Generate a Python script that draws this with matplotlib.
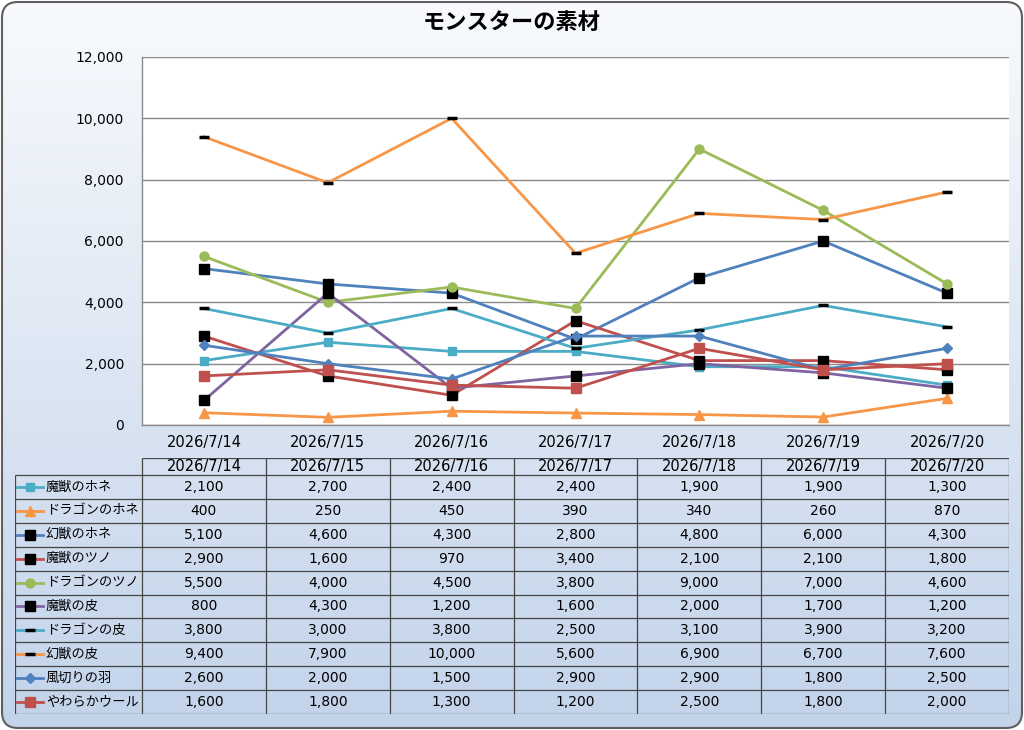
import numpy as np
import matplotlib
matplotlib.use("Agg")
import matplotlib.pyplot as plt
from matplotlib.patches import FancyBboxPatch

plt.rcParams['font.family'] = ['DejaVu Sans', 'Noto Sans CJK JP']

dates = ["2026/7/14", "2026/7/15", "2026/7/16", "2026/7/17",
         "2026/7/18", "2026/7/19", "2026/7/20"]

names = ["魔獣のホネ", "ドラゴンのホネ", "幻獣のホネ", "魔獣のツノ", "ドラゴンのツノ",
         "魔獣の皮", "ドラゴンの皮", "幻獣の皮", "風切りの羽", "やわらかウール"]

majuu_hone = [2100, 2700, 2400, 2400, 1900, 1900, 1300]
dragon_hone = [400, 250, 450, 390, 340, 260, 870]
genjuu_hone = [5100, 4600, 4300, 2800, 4800, 6000, 4300]
majuu_tsuno = [2900, 1600, 970, 3400, 2100, 2100, 1800]
dragon_tsuno = [5500, 4000, 4500, 3800, 9000, 7000, 4600]
majuu_kawa = [800, 4300, 1200, 1600, 2000, 1700, 1200]
dragon_kawa = [3800, 3000, 3800, 2500, 3100, 3900, 3200]
genjuu_kawa = [9400, 7900, 10000, 5600, 6900, 6700, 7600]
kazekiri_hane = [2600, 2000, 1500, 2900, 2900, 1800, 2500]
yawaraka_wool = [1600, 1800, 1300, 1200, 2500, 1800, 2000]

values = [majuu_hone, dragon_hone, genjuu_hone, majuu_tsuno, dragon_tsuno,
          majuu_kawa, dragon_kawa, genjuu_kawa, kazekiri_hane, yawaraka_wool]

aqua, orange, blue = '#4BACC6', '#F79646', '#4F81BD'
red, green, purple = '#C0504D', '#9BBB59', '#8064A2'

# (line color, marker, marker face, marker size, marker edge width)
styles = [
    (aqua, 's', aqua, 6, 1),
    (orange, '^', orange, 6.5, 1),
    (blue, 's', 'black', 6.5, 1),
    (red, 's', 'black', 6.5, 1),
    (green, 'o', green, 6.5, 1),
    (purple, 's', 'black', 6.5, 1),
    (aqua, '_', 'black', 7, 2.5),
    (orange, '_', 'black', 7, 2.5),
    (blue, 'D', blue, 5, 1),
    (red, 's', red, 6.5, 1),
]

W, H = 1024, 730
fig = plt.figure(figsize=(W / 100, H / 100), dpi=100)
fig.patch.set_facecolor('white')

# background rounded box with gradient
bg = fig.add_axes([0, 0, 1, 1])
bg.set_xlim(0, W)
bg.set_ylim(H, 0)
bg.axis('off')
box = FancyBboxPatch((2, 2), W - 4, H - 4, boxstyle="round,pad=0,rounding_size=16",
                     facecolor='none', edgecolor='#5f5f5f', lw=1.5, zorder=3)
bg.add_patch(box)
top = np.array([248, 250, 253]) / 255
bot = np.array([194, 211, 234]) / 255
t = np.linspace(0, 1, 256)[:, None, None]
grad = top * (1 - t) + bot * t
im = bg.imshow(grad, extent=(0, W, H, 0), aspect='auto', zorder=1)
im.set_clip_path(box)

bg.text(W / 2, 22, "モンスターの素材", ha='center', va='center',
        fontsize=16, fontweight='bold', family=['Noto Sans CJK JP'])

# chart
px_l, px_r, px_t, px_b = 142, 1009, 57, 425
ax = fig.add_axes([px_l / W, 1 - px_b / H, (px_r - px_l) / W, (px_b - px_t) / H])
ax.set_facecolor('white')
x = np.arange(len(dates))
for vals, (c, m, mf, ms, mew) in zip(values, styles):
    mec = mf if m != '_' else 'black'
    ax.plot(x, vals, color=c, lw=2, marker=m, markerfacecolor=mf,
            markeredgecolor=mec, markersize=ms, markeredgewidth=mew,
            solid_joinstyle='round')
ax.set_xlim(-0.5, len(dates) - 0.5)
ax.set_ylim(0, 12000)
ax.set_yticks(np.arange(0, 12001, 2000))
ax.set_yticklabels([f"{v:,}" for v in range(0, 12001, 2000)], fontsize=10)
ax.set_xticks(x)
ax.set_xticklabels(dates, fontsize=10.5)
ax.tick_params(axis='y', length=0, pad=13)
ax.tick_params(axis='x', length=0, pad=7)
ax.grid(axis='y', color='#8a8a8a', lw=1)
ax.set_axisbelow(True)
for s in ['top', 'right']:
    ax.spines[s].set_visible(False)
for s in ['left', 'bottom']:
    ax.spines[s].set_color('#8a8a8a')
    ax.spines[s].set_linewidth(1)

# data table
tb_l, tb_r, tb_t, tb_b = 15, 1009, 458, 714
col_w = (px_r - px_l) / len(dates)
x0 = -(px_l - tb_l) / col_w
row_h = (tb_b - 475) / len(names)
hdr = -(475 - tb_t) / row_h
ta = fig.add_axes([tb_l / W, 1 - tb_b / H, (tb_r - tb_l) / W, (tb_b - tb_t) / H])
ta.set_xlim(x0, len(dates))
ta.set_ylim(len(names), hdr)
ta.axis('off')
lc, lw = '#454545', 0.9
ta.hlines(hdr, 0, len(dates), color=lc, lw=lw)
ta.hlines(np.arange(len(names) + 1), x0, len(dates), color=lc, lw=lw)
ta.vlines(x0, 0, len(names), color=lc, lw=lw)
ta.vlines(np.arange(len(dates) + 1), hdr, len(names), color=lc, lw=lw)
for j, d in enumerate(dates):
    ta.text(j + 0.5, hdr / 2, d, ha='center', va='center', fontsize=10.5)
for i, (nm, vals, (c, m, mf, ms, mew)) in enumerate(zip(names, values, styles)):
    yc = i + 0.5
    mec = mf if m != '_' else 'black'
    ta.plot([x0 + 2 / col_w, x0 + 28 / col_w], [yc, yc], color=c, lw=2)
    ta.plot([x0 + 15 / col_w], [yc], marker=m, markerfacecolor=mf,
            markeredgecolor=mec, markersize=ms, markeredgewidth=mew, color=c)
    ta.text(x0 + 31 / col_w, yc, nm, ha='left', va='center', fontsize=9.5,
            family=['Noto Sans CJK JP'])
    for j, v in enumerate(vals):
        ta.text(j + 0.5, yc, f"{v:,}", ha='center', va='center', fontsize=10)

fig.savefig("out.png", dpi=100)
